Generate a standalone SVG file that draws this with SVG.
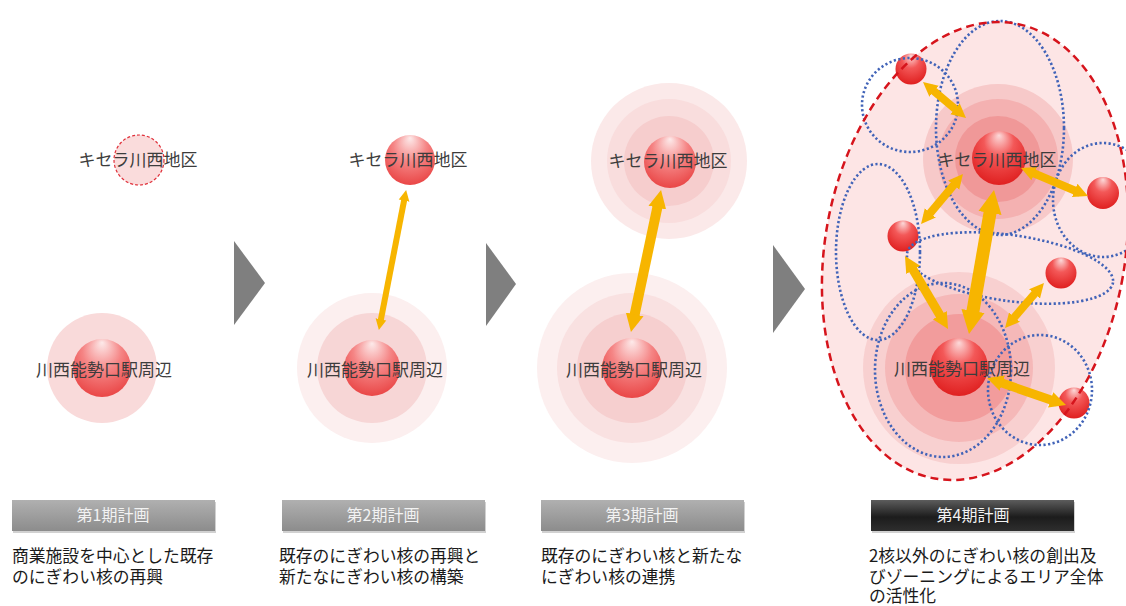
<svg xmlns="http://www.w3.org/2000/svg" width="1126" height="606" viewBox="0 0 1126 606">
<defs>
<radialGradient id="ball" cx="0.5" cy="0.36" r="0.66" fx="0.5" fy="0.06">
<stop offset="0" stop-color="#fdeaea"/>
<stop offset="0.5" stop-color="#f58585"/>
<stop offset="1" stop-color="#e94444"/>
</radialGradient>
<radialGradient id="ball4" cx="0.5" cy="0.36" r="0.66" fx="0.5" fy="0.08">
<stop offset="0" stop-color="#fcdada"/>
<stop offset="0.42" stop-color="#f35858"/>
<stop offset="1" stop-color="#df1e1e"/>
</radialGradient>
<linearGradient id="barGrey" x1="0" y1="0" x2="0" y2="1">
<stop offset="0" stop-color="#b0b0b0"/>
<stop offset="1" stop-color="#8c8c8c"/>
</linearGradient>
<linearGradient id="barDark" x1="0" y1="0" x2="0" y2="1">
<stop offset="0" stop-color="#5c5c5c"/>
<stop offset="0.55" stop-color="#1c1c1c"/>
<stop offset="1" stop-color="#2e2e2e"/>
</linearGradient>
<marker id="ah" viewBox="0 0 10 10" refX="4" refY="5" markerWidth="1.8" markerHeight="2.4" markerUnits="strokeWidth" orient="auto-start-reverse">
<path d="M0,0 L10,5 L0,10 z" fill="#f7b500"/>
</marker>
</defs>
<style>
.lbl{font-family:"Noto Sans CJK JP","Noto Sans",sans-serif;font-size:17px;fill:#3c3c3c;text-anchor:middle}
.desc{font-family:"Noto Sans CJK JP","Noto Sans",sans-serif;font-size:16.8px;fill:#1a1a1a}
.bart{font-family:"Noto Sans CJK JP","Noto Sans",sans-serif;font-size:16px;fill:#f2f2f2;text-anchor:middle}
.ball{fill:url(#ball)}
.ball4{fill:url(#ball4)}
.arrow{stroke:#f7b500;fill:none;marker-start:url(#ah);marker-end:url(#ah)}
.zone{fill:none;stroke:#4163b8;stroke-width:2.6;stroke-dasharray:2.2 2.4}
.chev{fill:#7f7f7f}
.shadow{fill:#000;opacity:0.18}
</style>
<rect width="1126" height="606" fill="#ffffff"/>

<!-- Stage 1 -->
<g id="s1-kisera">
<circle cx="139" cy="160" r="25" fill="#fadcdc" stroke="#e0303a" stroke-width="1.2" stroke-dasharray="3 2"/>
<text class="lbl" x="138" y="166">キセラ川西地区</text>
</g>
<g id="s1-station">
<circle cx="102" cy="368" r="55" fill="#f9dada"/>
<circle class="ball" cx="102" cy="368" r="29"/>
<text class="lbl" x="104" y="376">川西能勢口駅周辺</text>
</g>

<!-- Stage 2 -->
<g id="s2-kisera">
<circle class="ball" cx="410" cy="160" r="25"/>
<text class="lbl" x="408" y="166">キセラ川西地区</text>
</g>
<g id="s2-station">
<circle cx="372" cy="368" r="75" fill="#fcefef"/>
<circle cx="372" cy="368" r="55" fill="#f7d6d6"/>
<circle class="ball" cx="372" cy="368" r="28"/>
<text class="lbl" x="375" y="376">川西能勢口駅周辺</text>
</g>

<!-- Stage 3 -->
<g id="s3-kisera">
<circle cx="669" cy="161" r="78" fill="#fbe9e9"/>
<circle cx="669" cy="161" r="62" fill="#f9dddd"/>
<circle cx="669" cy="161" r="45" fill="#f6cdcd"/>
<circle class="ball" cx="670" cy="162" r="26"/>
<text class="lbl" x="668" y="167">キセラ川西地区</text>
</g>
<g id="s3-station">
<circle cx="632" cy="368" r="95" fill="#fcefef"/>
<circle cx="632" cy="368" r="75" fill="#f9e1e1"/>
<circle cx="632" cy="368" r="55" fill="#f6cfcf"/>
<circle class="ball" cx="632" cy="368" r="30"/>
<text class="lbl" x="634" y="376">川西能勢口駅周辺</text>
</g>

<!-- Stage 4 -->
<g id="s4-area">
<ellipse cx="975" cy="251" rx="150" ry="231" transform="rotate(10 975 251)" fill="#fde5e5"/>
</g>
<g id="s4-kisera">
<circle cx="998" cy="159" r="75" fill="#f7c9c9"/>
<circle cx="998" cy="159" r="60" fill="#f4b1b1"/>
<circle cx="998" cy="159" r="43" fill="#f09898"/>
<circle class="ball4" cx="999" cy="158" r="27"/>
</g>
<g id="s4-station">
<circle cx="959" cy="368" r="96" fill="#f8d0d0"/>
<circle cx="959" cy="368" r="74" fill="#f5b8b8"/>
<circle cx="959" cy="368" r="54" fill="#f29c9c"/>
<circle class="ball4" cx="959" cy="367" r="29"/>
</g>
<g id="s4-core1"><circle class="ball4" cx="911" cy="69" r="15.5"/></g>
<g id="s4-core2"><circle class="ball4" cx="1103" cy="193" r="16"/></g>
<g id="s4-core3"><circle class="ball4" cx="903" cy="236" r="15.5"/></g>
<g id="s4-core4"><circle class="ball4" cx="1061" cy="273" r="15.5"/></g>
<g id="s4-core5"><circle class="ball4" cx="1074" cy="403" r="15.5"/></g>
<g id="s4-zones">
<ellipse class="zone" cx="910" cy="105" rx="48" ry="47"/>
<ellipse class="zone" cx="1000" cy="128" rx="64" ry="107"/>
<ellipse class="zone" cx="1103" cy="200" rx="50" ry="57"/>
<ellipse class="zone" cx="878" cy="252" rx="42" ry="88"/>
<ellipse class="zone" cx="1010" cy="268" rx="104" ry="33" transform="rotate(8 1010 268)"/>
<ellipse class="zone" cx="943" cy="370" rx="68" ry="87"/>
<ellipse class="zone" cx="1040" cy="390" rx="52" ry="55"/>
</g>

<!-- connectors -->
<g id="connectors">
<line class="arrow" stroke-width="6" x1="404.9" y1="196.4" x2="380.1" y2="323.6"/>
<line class="arrow" stroke-width="10" x1="658.8" y1="200.6" x2="633.2" y2="321.4"/>
<line class="arrow" stroke-width="8" x1="929.6" y1="87.5" x2="959.4" y2="112.5"/>
<line class="arrow" stroke-width="8" x1="1029" y1="171.3" x2="1080" y2="192.7"/>
<line class="arrow" stroke-width="8" x1="957.4" y1="180.6" x2="926.6" y2="217.4"/>
<line class="arrow" stroke-width="13" x1="991.6" y1="203.8" x2="971.4" y2="320.2"/>
<line class="arrow" stroke-width="9" x1="909.9" y1="264.4" x2="943.1" y2="320.6"/>
<line class="arrow" stroke-width="8" x1="1010.7" y1="321.5" x2="1038.3" y2="289.5"/>
<line class="arrow" stroke-width="9" x1="996.2" y1="381.1" x2="1056.8" y2="401.9"/>
</g>

<g id="s4-border">
<ellipse cx="975" cy="251" rx="150" ry="231" transform="rotate(10 975 251)" fill="none" stroke="#d6141c" stroke-width="2.5" stroke-dasharray="8 5"/>
</g>
<g id="s4-labels">
<text class="lbl" x="997" y="166">キセラ川西地区</text>
<text class="lbl" x="962" y="375">川西能勢口駅周辺</text>
</g>

<!-- chevrons -->
<g id="chevron1"><polygon class="chev" points="234,241 265,283 234,325"/></g>
<g id="chevron2"><polygon class="chev" points="486,243 516,284 486,326"/></g>
<g id="chevron3"><polygon class="chev" points="773,245 805,289 773,333"/></g>

<!-- phase bars -->
<g id="phase1">
<rect class="shadow" x="13" y="502" width="203" height="31"/>
<rect x="12" y="500" width="203" height="31" fill="url(#barGrey)"/>
<text class="bart" x="113" y="521">第1期計画</text>
<text class="desc" x="12" y="562">商業施設を中心とした既存</text>
<text class="desc" x="12" y="583">のにぎわい核の再興</text>
</g>
<g id="phase2">
<rect class="shadow" x="283" y="502" width="203" height="31"/>
<rect x="282" y="500" width="203" height="31" fill="url(#barGrey)"/>
<text class="bart" x="383" y="521">第2期計画</text>
<text class="desc" x="279" y="562">既存のにぎわい核の再興と</text>
<text class="desc" x="279" y="583">新たなにぎわい核の構築</text>
</g>
<g id="phase3">
<rect class="shadow" x="542" y="502" width="203" height="31"/>
<rect x="541" y="500" width="203" height="31" fill="url(#barGrey)"/>
<text class="bart" x="642" y="521">第3期計画</text>
<text class="desc" x="541" y="562">既存のにぎわい核と新たな</text>
<text class="desc" x="541" y="583">にぎわい核の連携</text>
</g>
<g id="phase4">
<rect class="shadow" x="872" y="502" width="203" height="31"/>
<rect x="871" y="500" width="203" height="31" fill="url(#barDark)"/>
<text class="bart" x="973" y="521">第4期計画</text>
<text class="desc" x="869" y="562">2核以外のにぎわい核の創出及</text>
<text class="desc" x="869" y="583">びゾーニングによるエリア全体</text>
<text class="desc" x="869" y="602">の活性化</text>
</g>
</svg>
